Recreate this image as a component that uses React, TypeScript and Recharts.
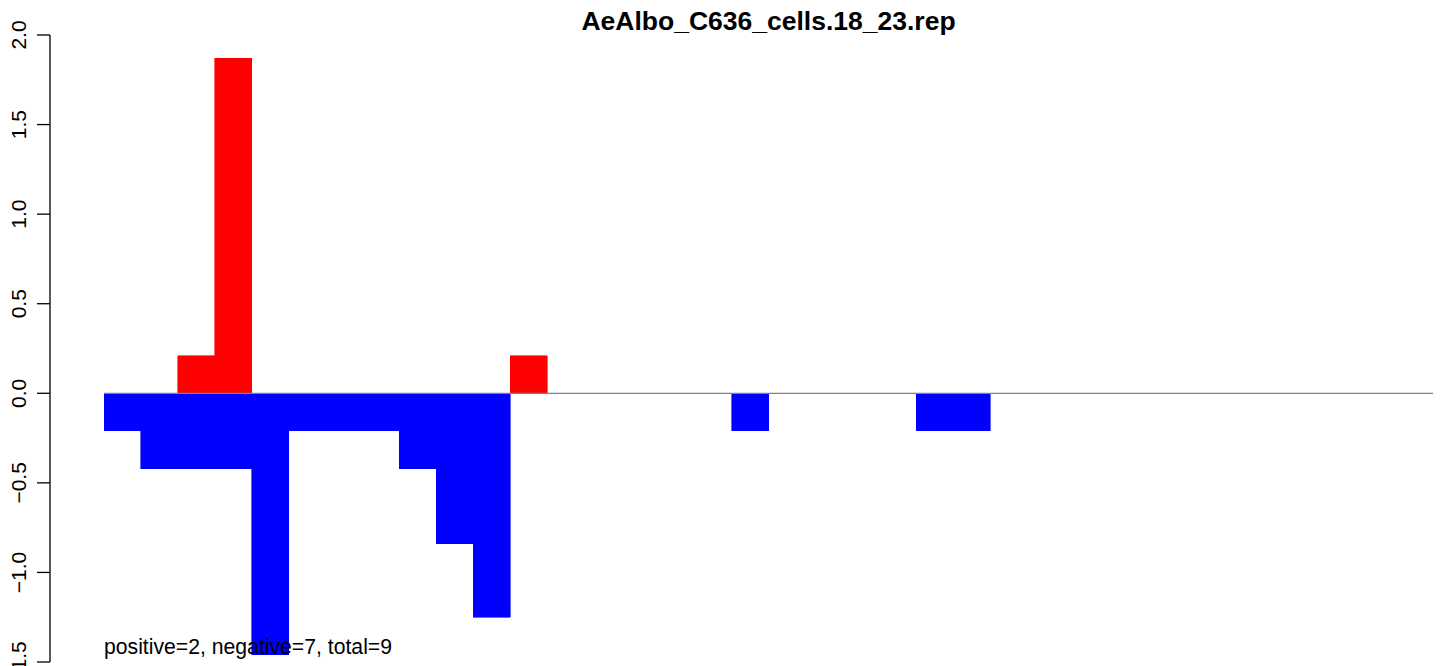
import React from 'react';
import { BarChart, Bar, XAxis, YAxis, ReferenceLine } from 'recharts';

const bins = [
  '1', '2', '3', '4', '5', '6', '7', '8', '9', '10', '11', '12',
  '13', '14', '15', '16', '17', '18', '19', '20', '21', '22', '23', '24',
  '25', '26', '27', '28', '29', '30', '31', '32', '33', '34', '35', '36',
];
const positiveValues = [
  0, 0, 0.21, 1.87, 0, 0, 0, 0, 0, 0, 0, 0.21,
  0, 0, 0, 0, 0, 0, 0, 0, 0, 0, 0, 0,
  0, 0, 0, 0, 0, 0, 0, 0, 0, 0, 0, 0,
];
const negativeValues = [
  -0.21, -0.42, -0.42, -0.42, -1.46, -0.21, -0.21, -0.21, -0.42, -0.84, -1.25, 0,
  0, 0, 0, 0, 0, -0.21, 0, 0, 0, 0, -0.21, -0.21,
  0, 0, 0, 0, 0, 0, 0, 0, 0, 0, 0, 0,
];
const yTicks = [-1.5, -1, -0.5, 0, 0.5, 1, 1.5, 2];

const title = 'AeAlbo_C636_cells.18_23.rep';
const summary = 'positive=2, negative=7, total=9';

const data = bins.map((name, i) => ({
  name,
  idx: i,
  positive: positiveValues[i],
  negative: negativeValues[i],
}));

const FONT = '"Liberation Sans", Arial, Helvetica, sans-serif';

const RotatedTick = ({ x, y, payload }: any) => {
  const label = Number(payload.value).toFixed(1).replace('-', '\u2212');
  const bx = x - 9;
  return (
    <text
      x={bx}
      y={y}
      transform={`rotate(-90, ${bx}, ${y})`}
      textAnchor="middle"
      fontFamily={FONT}
      fontSize={21}
      fill="#000"
    >
      {label}
    </text>
  );
};

export default function App() {
  const pad = { left: 54, right: 11 };
  return (
    <div style={{ position: 'absolute', left: 0, top: 0, width: 1444, height: 666, background: '#fff' }}>
      <BarChart
        width={1444}
        height={666}
        data={data}
        stackOffset="sign"
        barCategoryGap={0}
        margin={{ top: 35, right: 0, bottom: 4, left: 0 }}
      >
        <XAxis dataKey="name" hide padding={pad} />
        <XAxis
          xAxisId="edge"
          dataKey="idx"
          type="number"
          domain={[0, bins.length]}
          allowDataOverflow
          hide
          padding={pad}
        />
        <YAxis
          width={50}
          domain={[-1.5, 2]}
          ticks={yTicks}
          interval={0}
          tickSize={13}
          axisLine={{ stroke: '#000', strokeWidth: 1.3 }}
          tickLine={{ stroke: '#000', strokeWidth: 1.3 }}
          tick={<RotatedTick />}
        />
        <ReferenceLine
          xAxisId="edge"
          segment={[{ x: 0, y: 0 }, { x: bins.length, y: 0 }]}
          ifOverflow="visible"
          stroke="#808080"
          strokeWidth={1.3}
        />
        <Bar
          dataKey="positive"
          stackId="s"
          fill="#FF0000"
          stroke="#FF0000"
          strokeWidth={0.6}
          shapeRendering="crispEdges"
          isAnimationActive={false}
        />
        <Bar
          dataKey="negative"
          stackId="s"
          fill="#0000FF"
          stroke="#0000FF"
          strokeWidth={0.6}
          shapeRendering="crispEdges"
          isAnimationActive={false}
        />
      </BarChart>
      <svg
        width={1444}
        height={666}
        style={{ position: 'absolute', left: 0, top: 0, pointerEvents: 'none' }}
      >
        <text x={768.5} y={29.5} textAnchor="middle" fontFamily={FONT} fontSize={26.5} fontWeight="bold">
          {title}
        </text>
        <text x={104} y={654} fontFamily={FONT} fontSize={21.2}>
          {summary}
        </text>
      </svg>
    </div>
  );
}
